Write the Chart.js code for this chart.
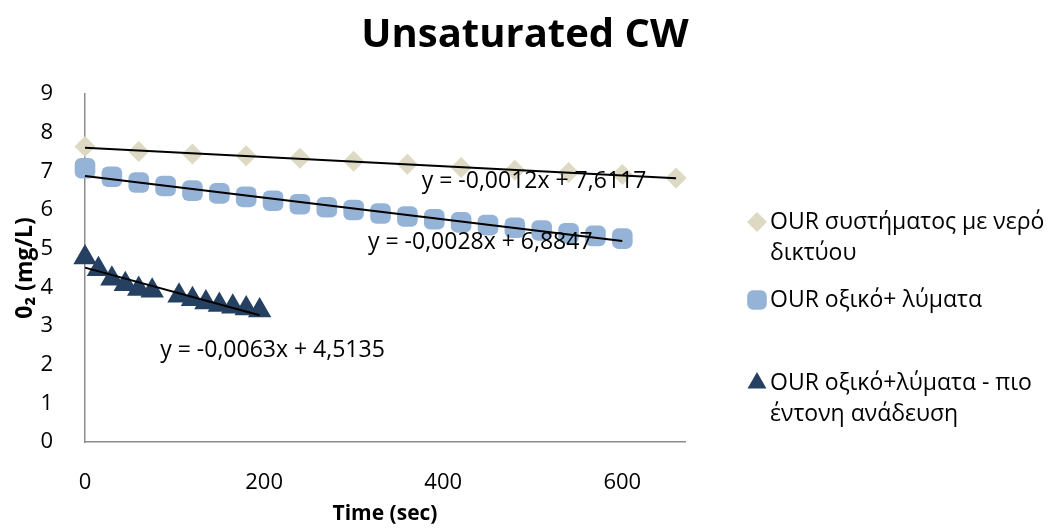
<!DOCTYPE html>
<html>
<head>
<meta charset="utf-8">
<script src="https://cdn.jsdelivr.net/npm/chart.js@4.4.1/dist/chart.umd.min.js"></script>
<style>
  body { margin: 0; background: #fff; }
  #wrap { width: 1050px; height: 529px; }
</style>
</head>
<body>
<div id="wrap"><canvas id="myChart" width="1050" height="529"></canvas></div>
<script>
// Dados
const seriesNames = [
    'OUR συστήματος με νερό δικτύου',
    'OUR οξικό+ λύματα',
    'OUR οξικό+λύματα - πιο έντονη ανάδευση'
]
const legendLines = [
    ['OUR συστήματος με νερό', 'δικτύου'],
    ['OUR οξικό+ λύματα'],
    ['OUR οξικό+λύματα - πιο', 'έντονη ανάδευση']
]

const tempoAgua = [0, 60, 120, 180, 240, 300, 360, 420, 480, 540, 600, 660]
const o2Agua = [7.64, 7.51, 7.45, 7.40, 7.34, 7.26, 7.18, 7.10, 7.03, 6.97, 6.92, 6.83]

const tempoLymata = [0, 30, 60, 90, 120, 150, 180, 210, 240, 270, 300, 330, 360, 390, 420, 450, 480, 510, 540, 570, 600]
const o2Lymata = [7.08, 6.86, 6.71, 6.62, 6.50, 6.43, 6.34, 6.24, 6.15, 6.07, 6.00, 5.91, 5.83, 5.76, 5.68, 5.61, 5.54, 5.47, 5.40, 5.33, 5.26]

const tempoAnadeusi = [0, 15, 30, 45, 60, 75, 105, 120, 135, 150, 165, 180, 195]
const o2Anadeusi = [4.77, 4.47, 4.22, 4.08, 3.96, 3.91, 3.78, 3.69, 3.61, 3.54, 3.50, 3.45, 3.40]

// Linhas de tendência (pontos inicial e final)
const trendX1 = [0, 660]
const trendY1 = [7.61, 6.82]
const trendX2 = [0, 600]
const trendY2 = [6.88, 5.20]
const trendX3 = [0, 195]
const trendY3 = [4.51, 3.28]

const equacoes = ['y = -0,0012x + 7,6117', 'y = -0,0028x + 6,8847', 'y = -0,0063x + 4,5135']

const xTicks = [0, 200, 400, 600]
const yTicks = [0, 1, 2, 3, 4, 5, 6, 7, 8, 9]

const cores = ['#DDD9C3', '#95B3D7', '#254061']
const estilos = ['rectRot', 'rectRounded', 'triangle']
const raios = [10.5, 12, 11.5]

function pares(xs, ys) {
    return xs.map((x, i) => ({ x: x, y: ys[i] }))
}

Chart.defaults.font.family = "'Open Sans', sans-serif"
Chart.defaults.color = '#000'

// Texto das equações e legenda desenhados à mão
const extras = {
    id: 'extras',
    beforeInit(chart) {
        // reserva espaço à direita para a legenda, sem mexer no título
        const fitOriginal = chart.legend.fit
        chart.legend.fit = function () {
            fitOriginal.call(this)
            this.width = 365
        }
    },
    afterDatasetsDraw(chart) {
        const ctx = chart.ctx
        const xs = chart.scales.x
        const ys = chart.scales.y
        const ancoras = [[376, 6.75], [316, 5.15], [84, 2.38]]

        ctx.save()
        ctx.fillStyle = '#000'
        ctx.font = "23px 'Open Sans', sans-serif"
        ctx.textBaseline = 'middle'
        ctx.textAlign = 'left'
        for (let i = 0; i < equacoes.length; i++) {
            ctx.fillText(equacoes[i], xs.getPixelForValue(ancoras[i][0]), ys.getPixelForValue(ancoras[i][1]))
        }

        // legenda
        const dir = chart.chartArea.right
        const topo = chart.chartArea.top
        const linhaY = [128, 206, 289]
        for (let i = 0; i < legendLines.length; i++) {
            const y = topo + linhaY[i]
            ctx.fillStyle = cores[i]
            ctx.strokeStyle = cores[i]
            Chart.helpers.drawPoint(ctx, { pointStyle: estilos[i], radius: raios[i] * 0.95, rotation: 0, borderWidth: 0 }, dir + 72, y)
            ctx.fillStyle = '#000'
            legendLines[i].forEach((t, j) => {
                ctx.fillText(t, dir + 85, y + j * 31)
            })
        }
        ctx.restore()
    }
}

const ctx = document.getElementById('myChart')
new Chart(ctx, {
    type: 'scatter',
    data: {
        datasets: [
            { label: 'trend1', data: pares(trendX1, trendY1), showLine: true, borderColor: '#000', borderWidth: 2, pointRadius: 0, clip: false },
            { label: 'trend2', data: pares(trendX2, trendY2), showLine: true, borderColor: '#000', borderWidth: 2, pointRadius: 0, clip: false },
            { label: 'trend3', data: pares(trendX3, trendY3), showLine: true, borderColor: '#000', borderWidth: 2, pointRadius: 0, clip: false },
            { label: seriesNames[2], data: pares(tempoAnadeusi, o2Anadeusi), pointStyle: estilos[2], pointRadius: raios[2], backgroundColor: cores[2], borderColor: cores[2], borderWidth: 2, clip: false },
            { label: seriesNames[1], data: pares(tempoLymata, o2Lymata), pointStyle: estilos[1], pointRadius: raios[1], backgroundColor: cores[1], borderColor: cores[1], borderWidth: 0, clip: false },
            { label: seriesNames[0], data: pares(tempoAgua, o2Agua), pointStyle: estilos[0], pointRadius: raios[0], backgroundColor: cores[0], borderColor: cores[0], borderWidth: 0, clip: false }
        ]
    },
    options: {
        responsive: false,
        animation: false,
        devicePixelRatio: 1,
        layout: { padding: 0 },
        plugins: {
            legend: {
                display: true,
                position: 'right',
                fullSize: false,
                labels: { filter: () => false }
            },
            tooltip: { enabled: false },
            title: {
                display: true,
                text: 'Unsaturated CW',
                font: { size: 40, weight: 'bold' },
                padding: { top: 12, bottom: 34 }
            }
        },
        scales: {
            x: {
                type: 'linear',
                min: 0,
                max: 670,
                grid: { display: false },
                border: { display: true, color: '#8c8c8c', width: 1.5 },
                ticks: { font: { size: 22 }, padding: 20, stepSize: 200 },
                afterBuildTicks: scale => { scale.ticks = xTicks.map(v => ({ value: v })) },
                afterFit: scale => { scale.height = 87 },
                title: { display: true, text: 'Time (sec)', font: { size: 21, weight: 'bold' }, padding: { top: 0, bottom: 2 } }
            },
            y: {
                min: 0,
                max: 9,
                grid: { display: false },
                border: { display: true, color: '#8c8c8c', width: 1.5 },
                ticks: { font: { size: 22 }, padding: 24, stepSize: 1 },
                afterBuildTicks: scale => { scale.ticks = yTicks.map(v => ({ value: v })) },
                afterFit: scale => { scale.width = 85 },
                title: { display: true, text: '0₂ (mg/L)', font: { size: 23, weight: 'bold' }, padding: { top: 12, bottom: 0 } }
            }
        }
    },
    plugins: [extras]
});
</script>
</body>
</html>
